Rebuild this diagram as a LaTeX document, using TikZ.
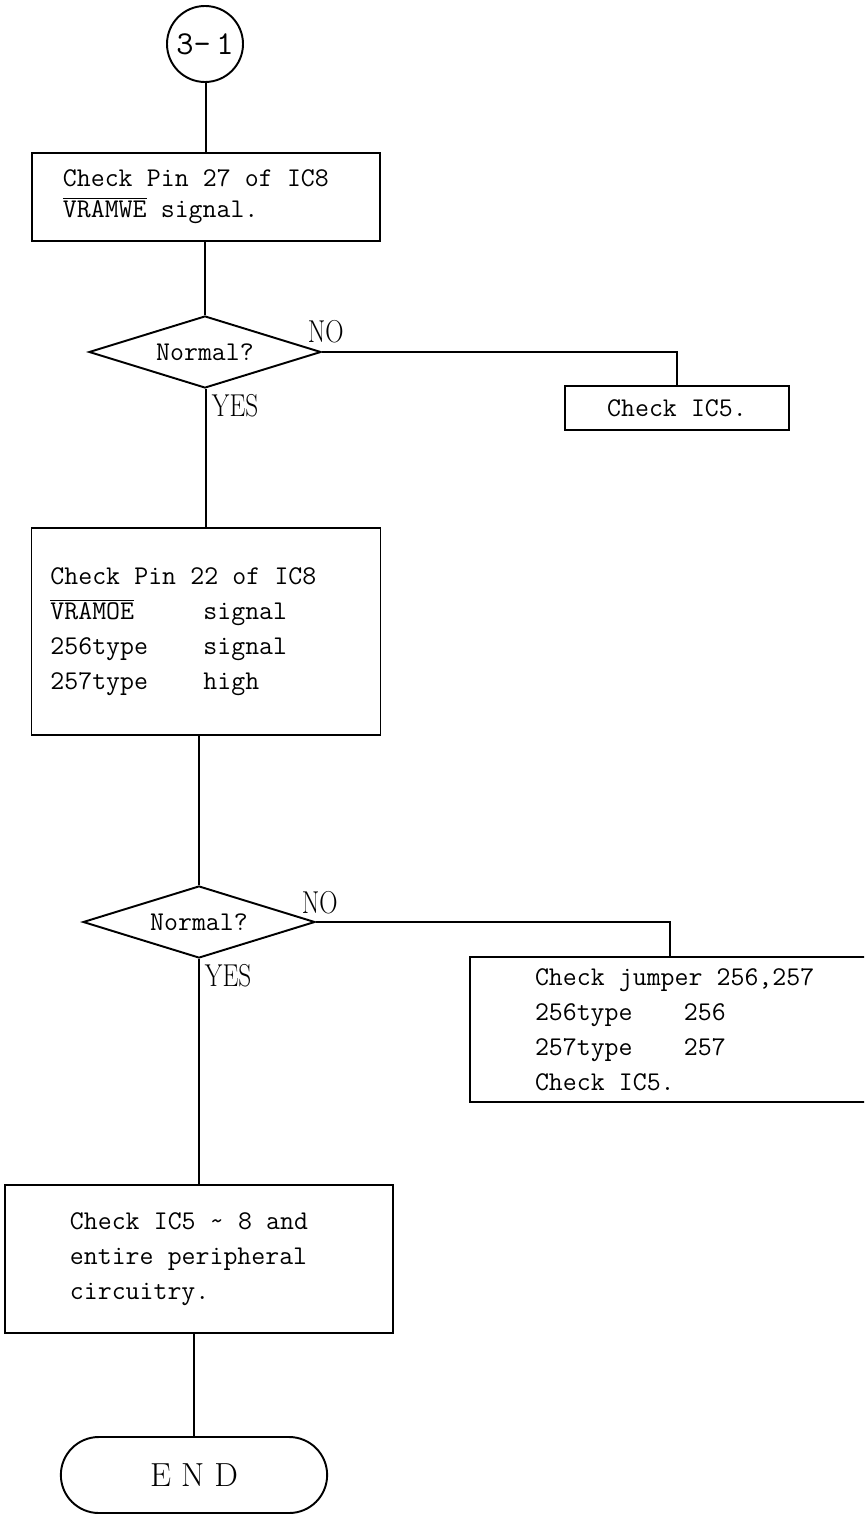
\documentclass[tikz,border=0pt]{standalone}
\usepackage{tikz}
\usetikzlibrary{positioning,shapes.geometric,shapes.misc}
\newcommand{\barsig}[1]{$\overline{\hbox{#1}}$}
\newcommand{\yn}[1]{\scalebox{.8}[1]{#1}}
\newcommand{\monofont}[1]{\ttfamily\fontsize{15.4}{#1}\selectfont}

\begin{document}
\begin{tikzpicture}[x=.2mm,y=-.2mm,line width=1.1pt,
    box/.style={draw,rectangle,align=left,font=\monofont{20},inner ysep=0pt,inner xsep=1mm,
      execute at begin node={\spaceskip=.525em\xspaceskip=.525em\relax}},
    pad/.style={execute at begin node={\leftskip=#1\relax}},
    ask/.style={draw,diamond,aspect=3.2,inner sep=0pt,minimum width=46.4mm,minimum height=14.4mm,font=\monofont{18}},
    lbl/.style={inner sep=0pt,font=\rmfamily\fontsize{18}{18}\selectfont}]
    \clip (0,0) rectangle (864,1515);
    \node[draw,circle,minimum size=15.2mm,inner sep=0pt,font=\ttfamily\fontsize{19}{20}\selectfont] (start) at (205,44) {3-\,1};
    \node[box,pad=5.2mm,minimum height=17.6mm,text width=67.6mm,font=\monofont{17.6}] (chk27) at (206,197)
      {Check Pin 27 of IC8\\\barsig{VRAMWE} signal.};
    \node[ask] (ok1) at (205,352) {Normal?};
    \node[box,minimum width=44.8mm,minimum height=8.8mm,align=center] (ic5) at (677,408) {Check IC5.};
    \node[box,pad=2.8mm,minimum height=41.4mm,text width=67.8mm] (chk22) at (206,631.5)
      {Check Pin 22 of IC8\\\makebox[30.6mm][l]{\barsig{VRAMOE}}signal\\\makebox[30.6mm][l]{256type}signal\\\makebox[30.6mm][l]{257type}high};
    \node[ask] (ok2) at (199,922) {Normal?};
    \node[box,pad=12mm,minimum height=29mm,text width=78mm] (jmp) at (670,1029.5)
      {Check jumper 256,257\\\makebox[29.8mm][l]{256type}256\\\makebox[29.8mm][l]{257type}257\\Check IC5.};
    \node[box,pad=12mm,minimum height=29.6mm,text width=75.6mm] (chkall) at (199,1259)
      {Check IC5 \textasciitilde{} 8 and\\entire peripheral\\circuitry.};
    \node[draw,rounded rectangle,minimum width=55.6mm,minimum height=15.2mm,font=\rmfamily\fontsize{19}{20}\selectfont] (endnode) at (194,1475) {E N D};
    % vertical flow
    \foreach \a/\b in {start/chk27,chk27/ok1,ok1/chk22,chk22/ok2,ok2/chkall,chkall/endnode}{\draw (\b.north |- \a.south)--(\b.north);}
    % NO branches
    \draw (ok1.east) -| (ic5.north);
    \draw (ok2.east) -| (jmp.north);
    \node[lbl,anchor=base west] (no1) at ([xshift=-3mm,yshift=1.8mm]ok1.east) {\yn{NO}};
    \node[lbl,anchor=north west] (yes1) at ([xshift=1.2mm,yshift=-.8mm]ok1.south) {\yn{YES}};
    \node[lbl,anchor=base west] (no2) at ([xshift=-3mm,yshift=1.8mm]ok2.east) {\yn{NO}};
    \node[lbl,anchor=north west] (yes2) at ([xshift=1mm,yshift=-.8mm]ok2.south) {\yn{YES}};
\end{tikzpicture}
\end{document}
